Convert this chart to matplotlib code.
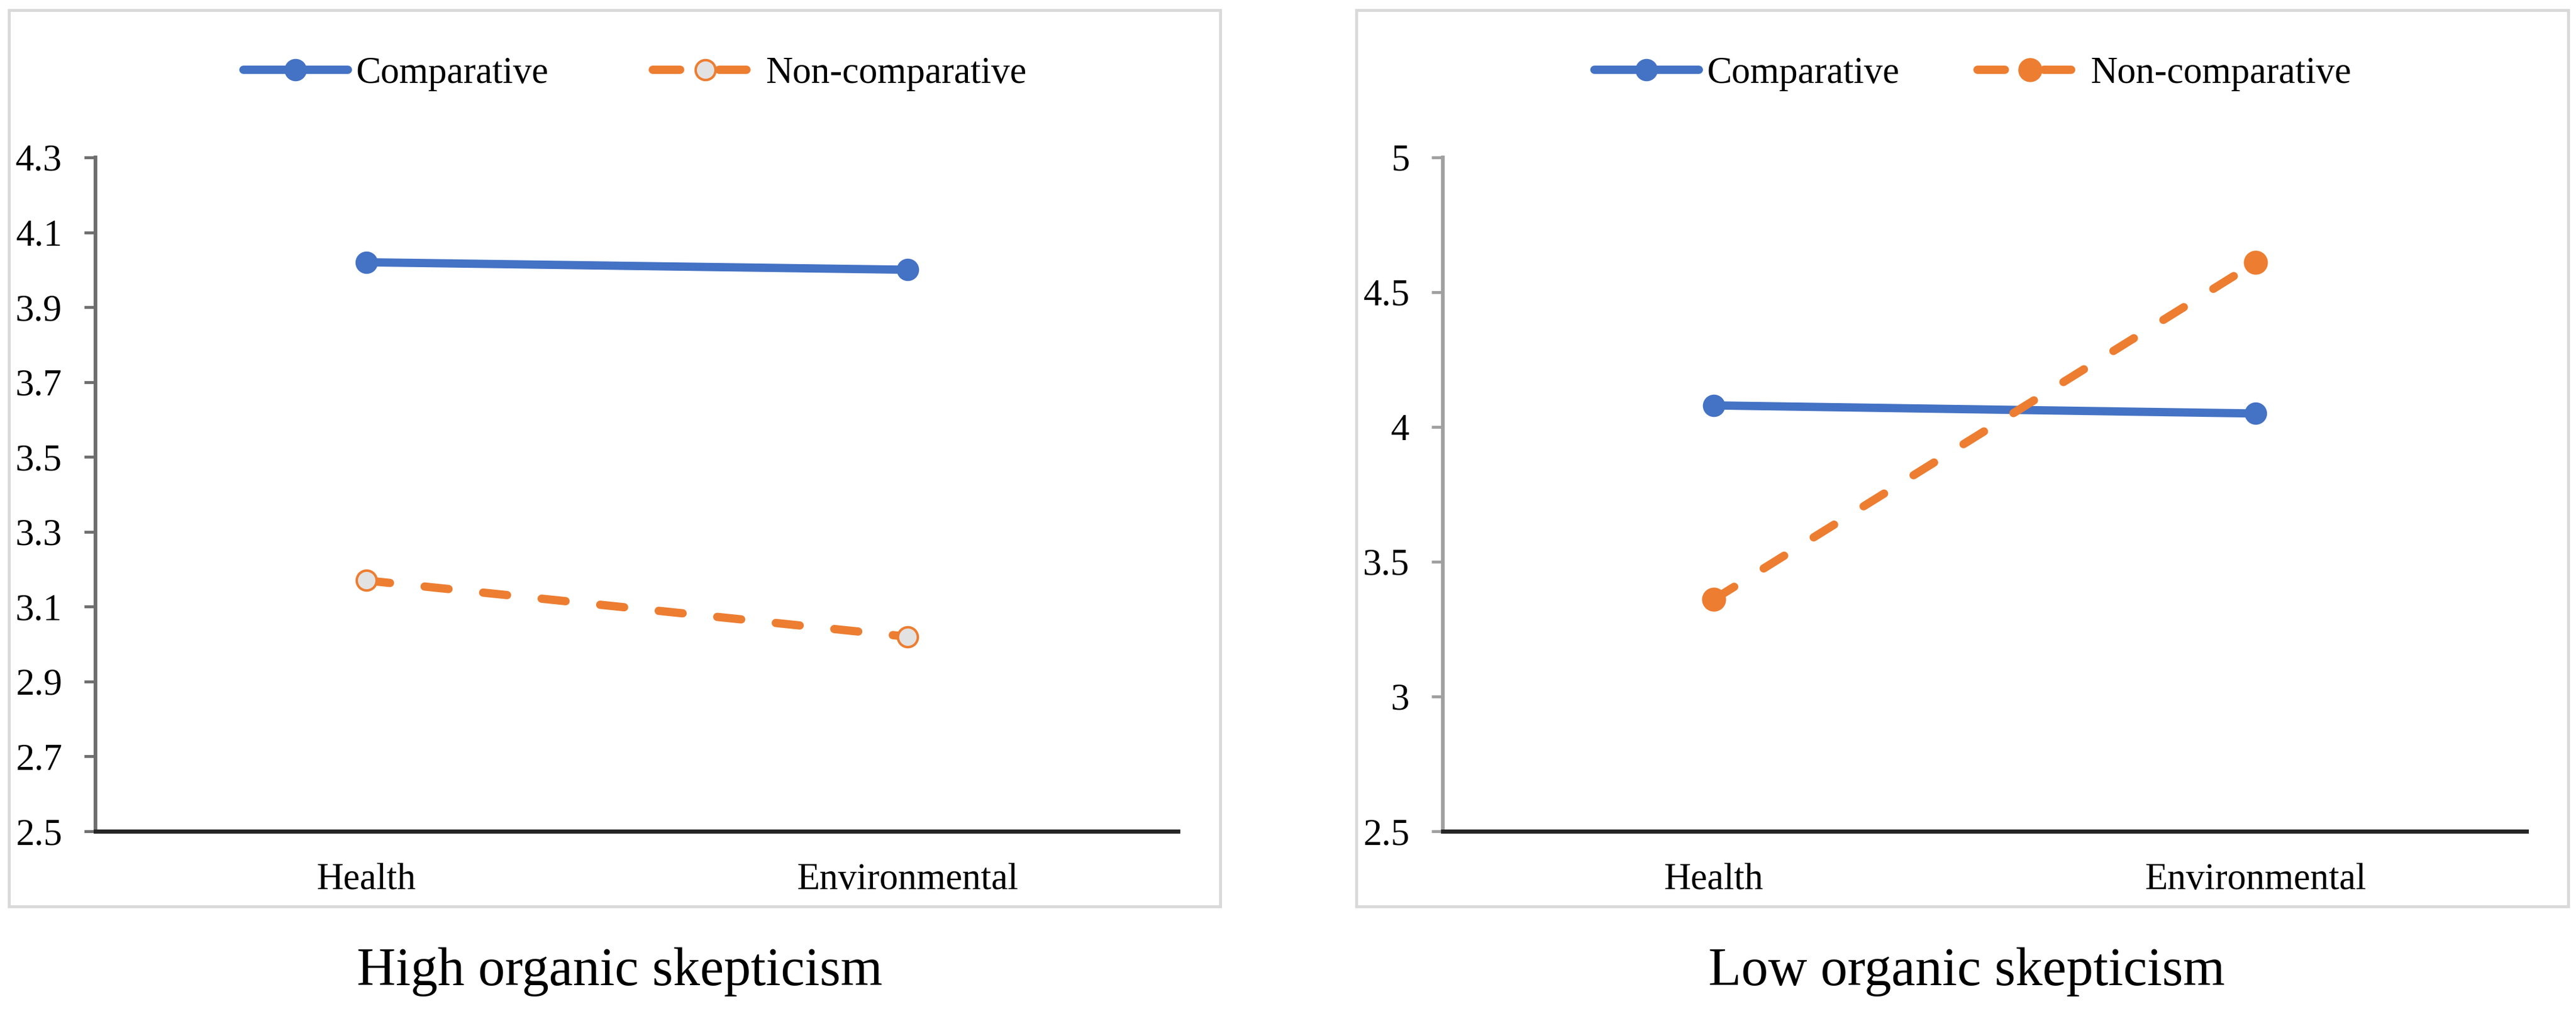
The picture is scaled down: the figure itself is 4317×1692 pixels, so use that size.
import matplotlib
matplotlib.use("Agg")
import matplotlib.pyplot as plt
from matplotlib.patches import Rectangle
from matplotlib.lines import Line2D

plt.rcParams['font.family'] = ['Liberation Serif', 'DejaVu Serif']

categories = ["Health", "Environmental"]
series_names = ["Comparative", "Non-comparative"]

# High organic skepticism panel
high_comparative = [4.02, 4.00]
high_noncomparative = [3.17, 3.02]
high_ticks = [2.5, 2.7, 2.9, 3.1, 3.3, 3.5, 3.7, 3.9, 4.1, 4.3]
high_ticklabels = ["2.5", "2.7", "2.9", "3.1", "3.3", "3.5", "3.7", "3.9", "4.1", "4.3"]

# Low organic skepticism panel
low_comparative = [4.08, 4.05]
low_noncomparative = [3.36, 4.61]
low_ticks = [2.5, 3.0, 3.5, 4.0, 4.5, 5.0]
low_ticklabels = ["2.5", "3", "3.5", "4", "4.5", "5"]

titles = ["High organic skepticism", "Low organic skepticism"]

BLUE = "#4472C4"
ORANGE = "#ED7D31"
W, H = 4317, 1692
FS = 45

fig = plt.figure(figsize=(W / 100, H / 100), dpi=100)


def fx(px):
    return px / W


def fy(py):
    return 1 - py / H


# light grey frames around each chart
for x0, x1 in [(15, 2045), (2273, 4304)]:
    fig.patches.append(Rectangle((fx(x0), fy(1520)), fx(x1 - x0), (1520 - 17) / H,
                                 transform=fig.transFigure, fill=False,
                                 edgecolor="#D9D9D9", linewidth=3.5, zorder=0))

panels = [
    dict(left=160, right=1974, comp=high_comparative, non=high_noncomparative,
         ticks=high_ticks, labels=high_ticklabels, hollow=True, yspine="#6E6E6E",
         leg_x=1064, colsp=2.8, title_x=1038),
    dict(left=2418, right=4234, comp=low_comparative, non=low_noncomparative,
         ticks=low_ticks, labels=low_ticklabels, hollow=False, yspine="#A0A0A0",
         leg_x=3306, colsp=2.1, title_x=3296),
]

for i, p in enumerate(panels):
    ax = fig.add_axes([fx(p["left"]), fy(1394), fx(p["right"] - p["left"]), (1394 - 264) / H])
    x = list(range(len(categories)))
    non_face = "#E2E2E2" if p["hollow"] else ORANGE
    non_ms = 24 if p["hollow"] else 26
    ax.plot(x, p["comp"], color=BLUE, lw=10, marker="o", ms=26,
            solid_capstyle="round", zorder=3)
    ax.plot(x, p["non"], color=ORANGE, lw=10, ls=(0, (2.9, 4.2)),
            dash_capstyle="round", marker="o", ms=non_ms,
            mfc=non_face, mec=ORANGE, mew=3, zorder=3)

    ax.set_xlim(-0.5, 1.5)
    ax.set_ylim(p["ticks"][0], p["ticks"][-1])
    ax.set_xticks(x)
    ax.set_xticklabels(categories, fontsize=FS)
    ax.set_yticks(p["ticks"])
    ax.set_yticklabels(p["labels"], fontsize=FS)
    ax.tick_params(axis="x", length=0, pad=38)
    ax.tick_params(axis="y", length=14, width=3.5, color=p["yspine"], pad=26)

    for s in ["top", "right"]:
        ax.spines[s].set_visible(False)
    ax.spines["left"].set_color(p["yspine"])
    ax.spines["left"].set_linewidth(4.5)
    ax.spines["bottom"].set_color("#262626")
    ax.spines["bottom"].set_linewidth(5)
    ax.spines["bottom"].set_zorder(4)
    ax.patch.set_alpha(0)

    handles = [
        Line2D([], [], color=BLUE, lw=10, marker="o", ms=26, solid_capstyle="round"),
        Line2D([], [], color=ORANGE, lw=10, ls=(0, (3.3, 4.7)), dash_capstyle="round",
               marker="o", ms=non_ms, mfc=non_face, mec=ORANGE, mew=3),
    ]
    fig.legend(handles, series_names, loc="center", bbox_to_anchor=(fx(p["leg_x"]), fy(124)),
               ncol=2, frameon=False, fontsize=FS, handlelength=2.8, handletextpad=0.22,
               columnspacing=p["colsp"], borderaxespad=0)

    fig.text(fx(p["title_x"]), fy(1630), titles[i], ha="center", va="center", fontsize=65)

fig.savefig("out.png", dpi=100, facecolor="white")
